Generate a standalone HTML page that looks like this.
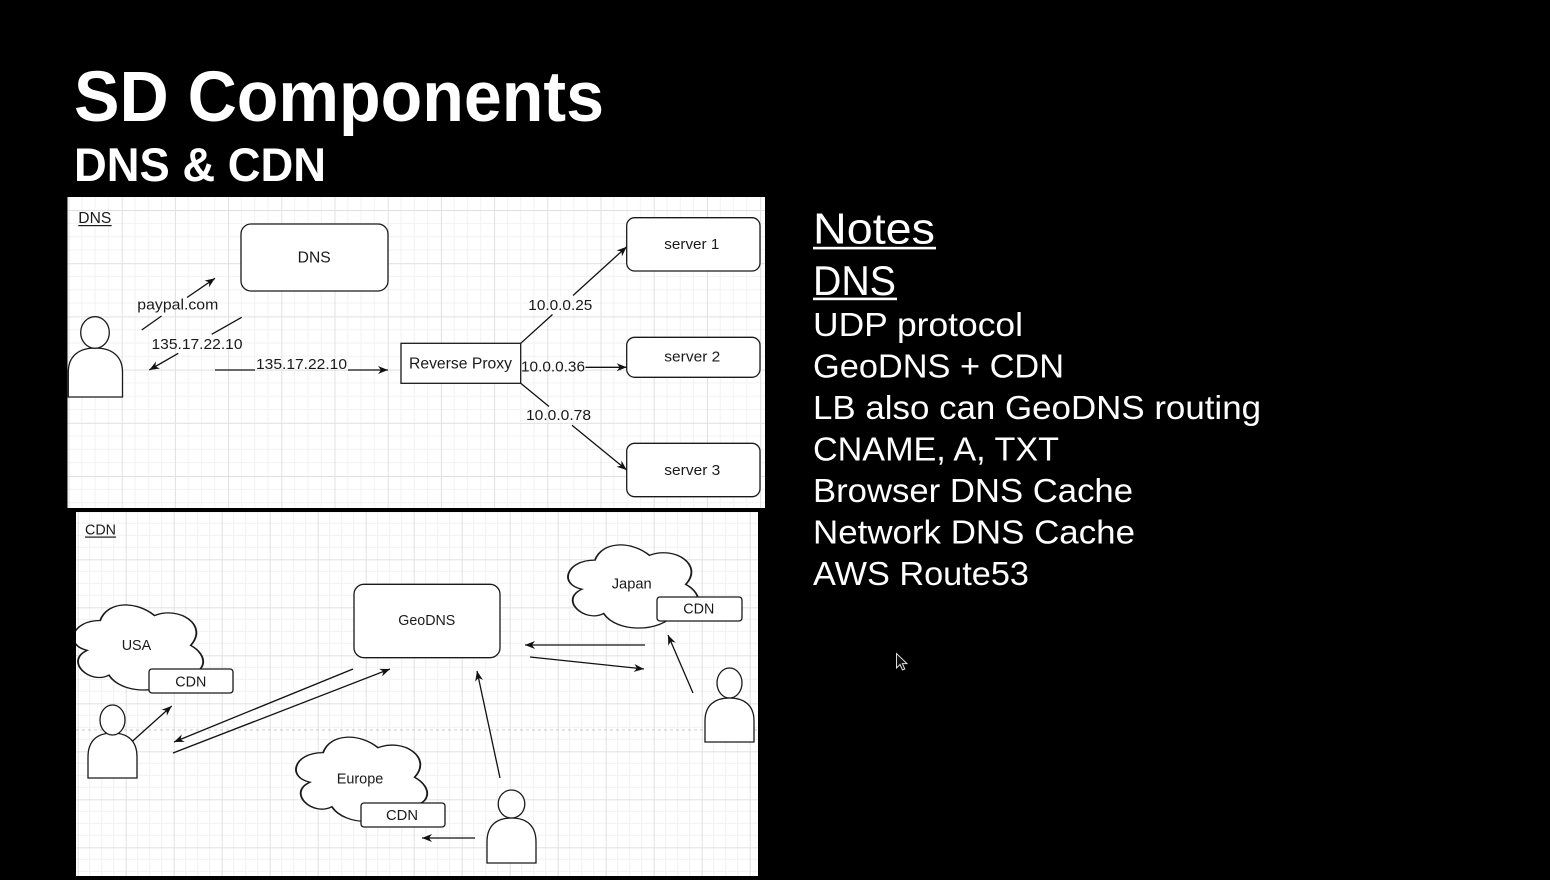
<!DOCTYPE html>
<html><head><meta charset="utf-8">
<style>
html,body{margin:0;padding:0;background:#000;}
body{width:1550px;height:880px;overflow:hidden;}
svg{display:block;}
text{font-family:"Liberation Sans",Arial,Helvetica,sans-serif;}
</style></head><body>
<svg width="1550" height="880" viewBox="0 0 1550 880" xmlns="http://www.w3.org/2000/svg">
<defs>
<pattern id="g1" x="68.5" y="210" width="53.2" height="53.2" patternUnits="userSpaceOnUse">
 <path d="M13.3 0V53.2M26.6 0V53.2M39.9 0V53.2M0 13.3H53.2M0 26.6H53.2M0 39.9H53.2" stroke="#f2f2f2" stroke-width="1" fill="none"/>
 <path d="M0.5 0V53.2M0 0.5H53.2" stroke="#e0e0e0" stroke-width="1" fill="none"/>
</pattern>
<pattern id="g2" x="77.7" y="511.3" width="48" height="48" patternUnits="userSpaceOnUse">
 <path d="M12 0V48M24 0V48M36 0V48M0 12H48M0 24H48M0 36H48" stroke="#f2f2f2" stroke-width="1" fill="none"/>
 <path d="M0.5 0V48M0 0.5H48" stroke="#e0e0e0" stroke-width="1" fill="none"/>
</pattern>
<marker id="ah" markerWidth="11" markerHeight="9" refX="10" refY="4.5" orient="auto" markerUnits="userSpaceOnUse">
 <path d="M0,0.5 L10,4.5 L0,8.5 L3,4.5 Z" fill="#111"/>
</marker>
<clipPath id="c1"><rect x="67.5" y="197" width="697.5" height="311"/></clipPath>
<clipPath id="c2"><rect x="76" y="512" width="682" height="364"/></clipPath>
<path id="cloud" d="M25,25 C5,25 0,50 16,55 C0,66 18,90 31,80 C40,100 70,100 80,80 C100,80 100,60 87.5,50 C100,30 80,10 62.5,20 C50,5 30,5 25,25 Z"/>
</defs>

<!-- Title -->
<text x="74" y="121" font-size="71" font-weight="bold" fill="#fff" textLength="530" lengthAdjust="spacingAndGlyphs">SD Components</text>
<text x="74" y="181" font-size="47" font-weight="bold" fill="#fff" textLength="252" lengthAdjust="spacingAndGlyphs">DNS &amp; CDN</text>

<!-- Notes -->
<g fill="#fff">
<text x="813" y="243.5" font-size="44" textLength="122" lengthAdjust="spacingAndGlyphs">Notes</text>
<rect x="813" y="246.8" width="123" height="2.6"/>
<text x="813" y="295" font-size="42" textLength="83" lengthAdjust="spacingAndGlyphs">DNS</text>
<rect x="813" y="297.6" width="84" height="2.6"/>
<text x="813" y="336" font-size="33" textLength="210" lengthAdjust="spacingAndGlyphs">UDP protocol</text>
<text x="813" y="377.5" font-size="33" textLength="251" lengthAdjust="spacingAndGlyphs">GeoDNS + CDN</text>
<text x="813" y="419" font-size="33" textLength="448" lengthAdjust="spacingAndGlyphs">LB also can GeoDNS routing</text>
<text x="813" y="460.5" font-size="33" textLength="246" lengthAdjust="spacingAndGlyphs">CNAME, A, TXT</text>
<text x="813" y="502" font-size="33" textLength="320" lengthAdjust="spacingAndGlyphs">Browser DNS Cache</text>
<text x="813" y="543.5" font-size="33" textLength="322" lengthAdjust="spacingAndGlyphs">Network DNS Cache</text>
<text x="813" y="585" font-size="33" textLength="216" lengthAdjust="spacingAndGlyphs">AWS Route53</text>
</g>

<!-- cursor -->
<path d="M896.5,653.5 L896.5,668 L900,664.5 L902.5,670 L904.8,669 L902.4,663.6 L907,663.6 Z" fill="#111" stroke="#ddd" stroke-width="1"/>

<!-- DNS panel -->
<rect x="67.5" y="197" width="697.5" height="311" fill="#fff"/>
<rect x="67.5" y="197" width="697.5" height="311" fill="url(#g1)"/>
<g clip-path="url(#c1)" stroke="#1a1a1a" stroke-width="1.3" fill="#fff">
 <rect x="241" y="224" width="147" height="67" rx="10"/>
 <rect x="401" y="343.3" width="119.7" height="40"/>
 <rect x="626.7" y="217.7" width="133.3" height="53.3" rx="8"/>
 <rect x="626.7" y="337.3" width="133.3" height="40" rx="8"/>
 <rect x="626.7" y="443.3" width="133.3" height="53.4" rx="8"/>
 <path d="M68.3,397 L68.3,372 C68.3,356 79,348 95.3,348 C111.6,348 122.5,356 122.5,372 L122.5,397 Z"/>
 <ellipse cx="95" cy="332.5" rx="14.3" ry="15.8"/>
</g>
<g stroke="#111" stroke-width="1.3" fill="none">
 <line x1="141.7" y1="330" x2="161.5" y2="316"/>
 <line x1="187" y1="297.5" x2="215" y2="278.3" marker-end="url(#ah)"/>
 <line x1="241.7" y1="317.3" x2="211.7" y2="334.3"/>
 <line x1="178.3" y1="353.3" x2="149.3" y2="370" marker-end="url(#ah)"/>
 <line x1="215" y1="370" x2="255" y2="370"/>
 <line x1="348" y1="370" x2="388" y2="370" marker-end="url(#ah)"/>
 <line x1="520.7" y1="343.3" x2="552.5" y2="314.5"/>
 <line x1="573" y1="295.5" x2="626.7" y2="246.7" marker-end="url(#ah)"/>
 <line x1="585.5" y1="367.3" x2="626.7" y2="367.3" marker-end="url(#ah)"/>
 <line x1="520.7" y1="383.3" x2="549" y2="406.5"/>
 <line x1="572" y1="425.3" x2="626.7" y2="470" marker-end="url(#ah)"/>
</g>
<g fill="#1a1a1a" font-size="15">
 <text x="78.3" y="223" font-size="15.5" textLength="33" lengthAdjust="spacingAndGlyphs">DNS</text>
 <rect x="78.3" y="225" width="33.4" height="1.2"/>
 <text x="297.7" y="262.7" font-size="15.5" textLength="33" lengthAdjust="spacingAndGlyphs">DNS</text>
 <text x="137.3" y="309.5" textLength="81" lengthAdjust="spacingAndGlyphs">paypal.com</text>
 <text x="151.5" y="349" textLength="91" lengthAdjust="spacingAndGlyphs">135.17.22.10</text>
 <text x="256" y="369" textLength="91" lengthAdjust="spacingAndGlyphs">135.17.22.10</text>
 <text x="409" y="368.5" font-size="15.5" textLength="103" lengthAdjust="spacingAndGlyphs">Reverse Proxy</text>
 <text x="664.3" y="249" textLength="55" lengthAdjust="spacingAndGlyphs">server 1</text>
 <text x="664.3" y="361.7" textLength="56" lengthAdjust="spacingAndGlyphs">server 2</text>
 <text x="664.3" y="475" textLength="56" lengthAdjust="spacingAndGlyphs">server 3</text>
 <text x="528.3" y="310" textLength="64" lengthAdjust="spacingAndGlyphs">10.0.0.25</text>
 <text x="521" y="371.7" textLength="64" lengthAdjust="spacingAndGlyphs">10.0.0.36</text>
 <text x="526" y="420" textLength="65" lengthAdjust="spacingAndGlyphs">10.0.0.78</text>
</g>

<!-- CDN panel -->
<rect x="76" y="512" width="682" height="364" fill="#fff"/>
<rect x="76" y="512" width="682" height="364" fill="url(#g2)"/>
<line x1="76" y1="730" x2="758" y2="730" stroke="#c8c8c8" stroke-width="1" stroke-dasharray="3,3"/>
<g clip-path="url(#c2)" stroke="#1a1a1a" stroke-width="1.3" fill="#fff">
 <use href="#cloud" transform="translate(64,595.7) scale(1.448,0.993)" vector-effect="non-scaling-stroke"/>
 <use href="#cloud" transform="translate(286.5,728) scale(1.464,0.985)" vector-effect="non-scaling-stroke"/>
 <use href="#cloud" transform="translate(558.6,535.9) scale(1.453,0.97)" vector-effect="non-scaling-stroke"/>
 <rect x="354" y="584.3" width="146" height="73.4" rx="10"/>
 <rect x="149" y="669" width="84" height="24" rx="3"/>
 <rect x="361" y="803" width="84" height="24" rx="3"/>
 <rect x="657" y="597" width="85" height="24" rx="3"/>
 <path d="M88,778 L88,757 C88,740 98,733 112.5,733 C127,733 137,740 137,757 L137,778 Z"/>
 <ellipse cx="112.5" cy="720" rx="12.5" ry="15"/>
 <path d="M487,863 L487,842 C487,825 497,818 511.5,818 C526,818 536,825 536,842 L536,863 Z"/>
 <ellipse cx="511.5" cy="804" rx="13.3" ry="14"/>
 <path d="M705,742 L705,721 C705,705 715,698 729.5,698 C744,698 754,705 754,721 L754,742 Z"/>
 <ellipse cx="729.5" cy="683" rx="12.5" ry="15"/>
</g>
<g stroke="#111" stroke-width="1.3" fill="none">
 <line x1="132.7" y1="741" x2="171.7" y2="706" marker-end="url(#ah)"/>
 <line x1="353" y1="669" x2="174" y2="742" marker-end="url(#ah)"/>
 <line x1="173" y1="753" x2="390" y2="669" marker-end="url(#ah)"/>
 <line x1="475" y1="838" x2="422" y2="838" marker-end="url(#ah)"/>
 <line x1="500" y1="778" x2="477" y2="671" marker-end="url(#ah)"/>
 <line x1="693" y1="693" x2="668" y2="635" marker-end="url(#ah)"/>
 <line x1="645" y1="645" x2="525" y2="645" marker-end="url(#ah)"/>
 <line x1="530" y1="657" x2="644" y2="669" marker-end="url(#ah)"/>
</g>
<g fill="#1a1a1a" font-size="15">
 <text x="85" y="534.5" textLength="31" lengthAdjust="spacingAndGlyphs">CDN</text>
 <rect x="85" y="536.5" width="31" height="1.2"/>
 <text x="398.3" y="625" textLength="57" lengthAdjust="spacingAndGlyphs">GeoDNS</text>
 <text x="121.7" y="650" textLength="29.5" lengthAdjust="spacingAndGlyphs">USA</text>
 <text x="175.3" y="686.7" textLength="31" lengthAdjust="spacingAndGlyphs">CDN</text>
 <text x="336.7" y="783.3" textLength="46.6" lengthAdjust="spacingAndGlyphs">Europe</text>
 <text x="386" y="820" textLength="32" lengthAdjust="spacingAndGlyphs">CDN</text>
 <text x="611.7" y="588.5" textLength="40" lengthAdjust="spacingAndGlyphs">Japan</text>
 <text x="683.3" y="613.3" textLength="31" lengthAdjust="spacingAndGlyphs">CDN</text>
</g>
</svg>
</body></html>
